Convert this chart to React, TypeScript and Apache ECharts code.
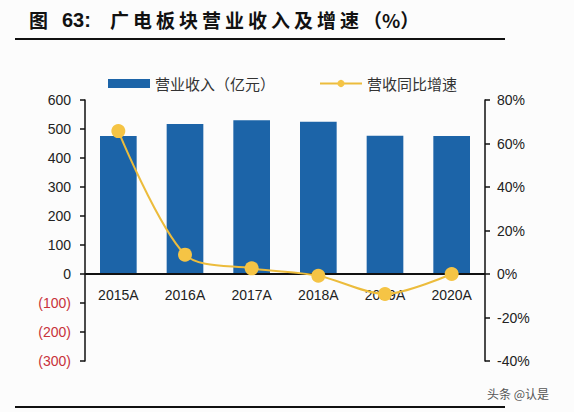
import React, { useEffect, useRef } from "react";
import * as echarts from "echarts";

const categories = ["2015A", "2016A", "2017A", "2018A", "2019A", "2020A"];
const revenue = [476, 517, 530, 525, 477, 476];
const growth = [65.7, 8.9, 2.6, -0.8, -9.2, 0];
const leftTicks = { min: -300, max: 600, interval: 100 };
const rightTicks = { min: -40, max: 80, interval: 20 };

const titleLabel = "图";
const titleNumber = "63:";
const titleBody = "广电板块营业收入及增速";
const titleUnit = "（%）";
const revenueName = "营业收入（亿元）";
const growthName = "营收同比增速";
const sourceText = "头条 @认是";

const FONT = "Liberation Sans, Arial, Noto Sans CJK SC, sans-serif";
const CJK = "Noto Sans CJK SC, sans-serif";

// grid geometry: the category labels sit just under the zero line of the left axis
const GRID = { left: 85, right: 89, top: 100, bottom: 51 };
const PLOT_H = 412 - GRID.top - GRID.bottom;
const ZERO_OFFSET =
  (PLOT_H * (0 - leftTicks.min)) / (leftTicks.max - leftTicks.min);

function titleGraphics() {
  const style = { fontSize: 19, fontWeight: "bold" as const, fill: "#111", fontFamily: CJK };
  const items: any[] = [
    { type: "text", x: 29, y: 10, style: { ...style, text: titleLabel } },
    { type: "text", x: 62, y: 10, style: { ...style, fontFamily: FONT, fontSize: 20, text: titleNumber } },
  ];
  Array.from(titleBody).forEach((ch, i) => {
    items.push({ type: "text", x: 110 + i * 23, y: 10, style: { ...style, text: ch } });
  });
  items.push({ type: "text", x: 110 + titleBody.length * 23, y: 10, style: { ...style, text: titleUnit } });
  return items;
}

export default function App() {
  const ref = useRef<HTMLDivElement>(null);

  useEffect(() => {
    if (!ref.current) return;
    const chart = echarts.init(ref.current, undefined, { renderer: "svg" });
    chart.setOption({
      animation: false,
      backgroundColor: "#fcfcfc",
      grid: GRID,
      legend: {
        left: 103,
        top: 71,
        itemGap: 44,
        itemWidth: 42,
        itemHeight: 9,
        textStyle: { fontSize: 15, color: "#333", fontFamily: CJK },
        data: [
          { name: revenueName, icon: "rect" },
          { name: growthName },
        ],
      },
      xAxis: {
        type: "category",
        data: categories,
        position: "bottom",
        offset: -ZERO_OFFSET,
        axisLine: { show: false, onZero: false },
        axisTick: { show: false },
        axisLabel: { fontSize: 14, color: "#222", fontFamily: FONT, margin: 14 },
      },
      yAxis: [
        {
          type: "value",
          ...leftTicks,
          splitLine: { show: false },
          axisLine: { show: true, lineStyle: { color: "#111", width: 1.5 } },
          axisTick: { show: true, length: 5, lineStyle: { color: "#111", width: 1.5 } },
          axisLabel: {
            fontSize: 14,
            color: "#222",
            fontFamily: FONT,
            margin: 14,
            formatter: (v: number) => (v < 0 ? `{neg|(${-v})}` : `${v}`),
            rich: { neg: { color: "#c8323a", fontSize: 14, fontFamily: FONT } },
          },
        },
        {
          type: "value",
          ...rightTicks,
          position: "right",
          splitLine: { show: false },
          axisLine: { show: true, lineStyle: { color: "#111", width: 1.5 } },
          axisTick: { show: true, length: 5, lineStyle: { color: "#111", width: 1.5 } },
          axisLabel: {
            fontSize: 14,
            color: "#222",
            fontFamily: FONT,
            margin: 12,
            formatter: (v: number) => `${v}%`,
          },
        },
      ],
      series: [
        {
          name: revenueName,
          type: "bar",
          data: revenue,
          barWidth: "55%",
          itemStyle: { color: "#1c64a8" },
          // zero baseline across the plot
          markLine: {
            silent: true,
            symbol: "none",
            label: { show: false },
            lineStyle: { color: "#111", width: 2, type: "solid" },
            data: [{ yAxis: 0 }],
          },
        },
        {
          name: growthName,
          type: "line",
          yAxisIndex: 1,
          data: growth,
          smooth: 0.3,
          symbol: "circle",
          symbolSize: 14,
          lineStyle: { color: "#ecbc3c", width: 2 },
          itemStyle: { color: "#f5c445" },
          z: 5,
        },
      ],
      graphic: [
        ...titleGraphics(),
        {
          type: "line",
          shape: { x1: 15, y1: 39, x2: 505, y2: 39 },
          style: { stroke: "#111", lineWidth: 2 },
        },
        {
          type: "line",
          shape: { x1: 15, y1: 407, x2: 505, y2: 407 },
          style: { stroke: "#111", lineWidth: 2 },
        },
        {
          type: "text",
          x: 487,
          y: 387,
          style: { text: sourceText, fontSize: 12, fill: "#555", fontFamily: CJK },
        },
      ],
    });
    return () => chart.dispose();
  }, []);

  return (
    <div
      ref={ref}
      style={{ position: "fixed", left: 0, top: 0, width: 574, height: 412 }}
    />
  );
}
